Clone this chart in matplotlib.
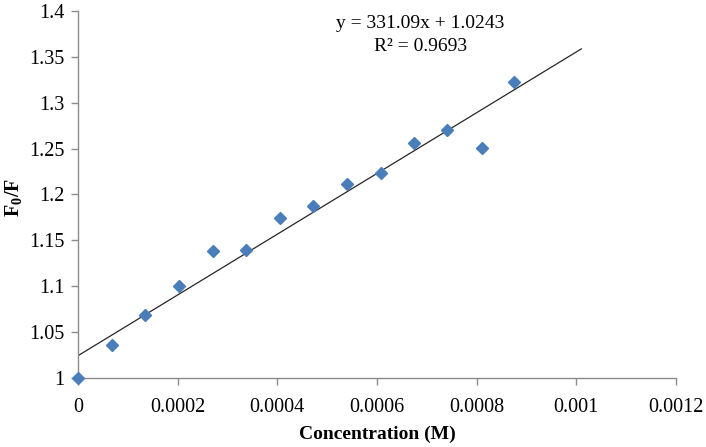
import numpy as np
import matplotlib
matplotlib.use("Agg")
import matplotlib.pyplot as plt
from matplotlib.ticker import FuncFormatter, MultipleLocator

conc = [0, 0.0000675, 0.000135, 0.0002025, 0.00027, 0.0003375, 0.000405,
        0.0004725, 0.00054, 0.0006075, 0.000675, 0.00074, 0.00081, 0.000875]
f0f = [1.000, 1.036, 1.069, 1.100, 1.138, 1.140, 1.174,
       1.187, 1.211, 1.223, 1.256, 1.270, 1.251, 1.323]
slope = 331.09
intercept = 1.0243
r2 = 0.9693
trend_x = [0, 0.00101]

plt.rcParams['font.family'] = ['Liberation Serif', 'DejaVu Serif']
plt.rcParams['mathtext.fontset'] = 'custom'
plt.rcParams['mathtext.rm'] = 'Liberation Serif'
plt.rcParams['mathtext.bf'] = 'Liberation Serif:bold'

fig = plt.figure(figsize=(7.06, 4.47), dpi=100)
ax = fig.add_axes([0.1105, 0.1544, 0.847, 0.821])

tx = np.array(trend_x)
ax.plot(tx, slope * tx + intercept, color='#262626', lw=0.9, zorder=2)
ax.plot(conc, f0f, linestyle='none', marker='D', markersize=6.2,
        color='#4A7EBB', markeredgecolor='#4A7EBB', zorder=3, clip_on=False)

ax.set_xlim(0, 0.0012)
ax.set_ylim(1, 1.4)
ax.xaxis.set_major_locator(MultipleLocator(0.0002))
ax.yaxis.set_major_locator(MultipleLocator(0.05))
fmt = FuncFormatter(lambda v, p: '%g' % round(v, 6))
ax.xaxis.set_major_formatter(fmt)
ax.yaxis.set_major_formatter(fmt)

for s in ['top', 'right']:
    ax.spines[s].set_visible(False)
for s in ['left', 'bottom']:
    ax.spines[s].set_color('#8C8C8C')
    ax.spines[s].set_linewidth(1.0)
ax.tick_params(axis='both', direction='out', length=5, color='#8C8C8C',
               labelsize=14.5, width=1.0)
ax.tick_params(axis='x', pad=9.5)
ax.tick_params(axis='y', pad=5)

ax.set_xlabel('Concentration (M)', fontsize=14, fontweight='bold', labelpad=6)
ax.set_ylabel(r'$\mathbf{F_0/F}$', fontsize=14.5, va='center')
ax.yaxis.set_label_coords(-0.108, 0.493)

ax.text(0.000687, 1.374, 'y = %.2fx + %.4f\nR² = %.4f' % (slope, intercept, r2),
        ha='center', va='center', fontsize=14, linespacing=1.5)

fig.savefig('out.png', dpi=100)
